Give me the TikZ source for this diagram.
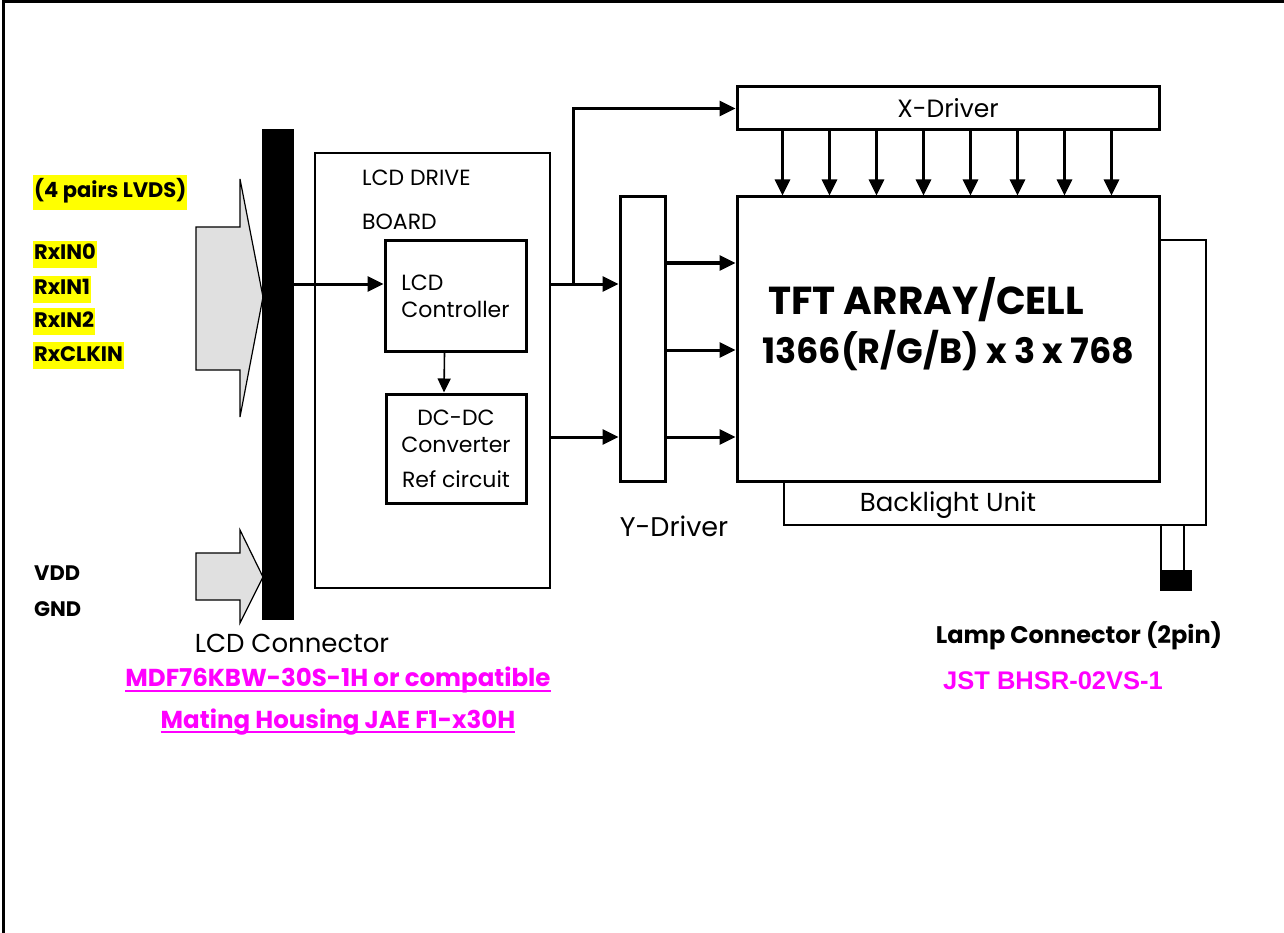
\documentclass[tikz,border=0pt]{standalone}
\usepackage{fontspec}
\setmainfont{Poppins}
\newfontfamily\pnfont{Liberation Sans}
\usetikzlibrary{arrows.meta,positioning,calc}
\definecolor{Ink}{HTML}{000000}
\definecolor{Magenta}{HTML}{FF00FF}
\definecolor{Hilite}{HTML}{FFFF00}
\definecolor{Shade}{HTML}{E0E0E0}
\newcommand{\fsz}[2]{\fontsize{#1}{#2}\selectfont}
\tikzset{
  box/.style={draw=Ink,line width=3pt,inner sep=0pt},
  arr/.style={-{Triangle[length=16pt,width=15pt]},line width=3pt,draw=Ink},
  tag/.style={fill=Hilite,anchor=west,inner xsep=1pt,inner ysep=4pt,text height=15pt,text depth=4pt,font=\bfseries\fsz{21}{24}},
  lbl/.style={font=\fsz{22}{27},inner sep=0pt},
  pn/.style={text=Magenta,inner sep=0pt,font=\bfseries\fsz{24.5}{28}},
  uline/.style={draw=Magenta,line width=2pt},
}
\begin{document}
\begin{tikzpicture}[x=1pt,y=1pt]
\useasboundingbox (0,0) rectangle (1284,-933);
% frame
\draw[line width=3pt] (3,-933) -- (3,-2) -- (1284,-2);
% input labels
\node[tag,inner ysep=8pt] (lvds) at (33,-192.5) {(4 pairs LVDS)};
\node[tag] (rx0) at (33,-254.5) {RxIN0};
\node[tag] (rx1) at (33,-289) {RxIN1};
\node[tag] (rx2) at (33,-321.5) {RxIN2};
\node[tag] (rxclk) at (33,-355.5) {RxCLKIN};
\node[tag,fill=none] (vdd) at (33,-575) {VDD};
\node[tag,fill=none] (gnd) at (33,-611) {GND};
% fat input arrows
\draw[line width=1.2pt,fill=Shade] (196,-227) -- (240,-227) -- (240,-179) -- (263,-297) -- (240,-417) -- (240,-370) -- (196,-370) -- cycle;
\draw[line width=1.2pt,fill=Shade] (196,-553) -- (240,-553) -- (240,-530) -- (263,-577) -- (240,-623) -- (240,-600) -- (196,-600) -- cycle;
% connector
\node[box,fill=Ink,minimum width=29pt,minimum height=487pt] (conn) at (277.5,-374.5) {};
\node[lbl,font=\fsz{26}{30}] (connlbl) at (292,-643) {LCD Connector};
\node[pn] (pn1) at (338,-680) {MDF76KBW-30S-1H or compatible};
\node[pn] (pn2) at (338,-722) {Mating Housing JAE F1-x30H};
\draw[uline] ([yshift=-4pt]pn1.base west) -- ([yshift=-4pt]pn1.base east);
\draw[uline] ([yshift=-4pt]pn2.base west) -- ([yshift=-4pt]pn2.base east);
% drive board
\node[box,line width=2.4pt,minimum width=235pt,minimum height=435pt] (board) at (432.5,-370.5) {};
\node[lbl,anchor=base west] (boardlbl) at (362,-186) {LCD DRIVE};
\node[lbl,anchor=base west] (boardlbl2) at (362,-230) {BOARD};
\node[box,lbl,align=left,minimum width=141pt,minimum height=110pt] (ctrl) at (455.5,-296) {LCD\\Controller};
\node[box,lbl,align=center,minimum width=140pt,minimum height=109pt] (dcdc) at (456,-448.5) {DC-DC\\Converter\\[8pt]Ref circuit};
% drivers and panel
\node[box,minimum width=45pt,minimum height=284pt] (ydrv) at (642.5,-339) {};
\node[lbl,font=\fsz{27}{30}] (ylbl) at (674,-526) {Y-Driver};
\node[box,lbl,font=\fsz{25}{28},minimum width=422pt,minimum height=43pt] (xdrv) at (948,-108.5) {X-Driver};
\node[box,minimum width=422pt,minimum height=284pt] (tft) at (948,-339) {};
\node[inner sep=0pt,anchor=west,font=\bfseries\fsz{39}{42}] (tftt) at (768,-300) {TFT ARRAY/CELL};
\node[inner sep=0pt,anchor=west,font=\bfseries\fsz{35}{38}] (tftn) at (762,-351) {1366(R/G/B) x 3 x 768};
% backlight and lamp
\draw[line width=2pt] (784,-481) -- (784,-525) -- (1206,-525) -- (1206,-240) -- (tft.east |- 0,-240);
\node[lbl,font=\fsz{26}{30}] (bllbl) at (948,-505) {Backlight Unit};
\node[fill=Ink,minimum width=32pt,minimum height=21pt,inner sep=0pt] (lamp) at (1176,-580.5) {};
\draw[line width=1.8pt] ([xshift=1pt]lamp.north west) -- ++(0,45);
\draw[line width=1.8pt] ([xshift=24pt]lamp.north west) -- ++(0,45);
\node[font=\bfseries\fsz{24}{28},inner sep=0pt] (lamplbl) at (1079,-636) {Lamp Connector (2pin)};
\node[text=Magenta,inner sep=0pt,font=\pnfont\bfseries\fsz{25.5}{28}] (lamppn) at (1053,-681) {JST BHSR-02VS-1};
% signal flow
\coordinate (row1) at (0,-284);
\coordinate (row2) at (0,-437);
\coordinate (tap) at (573,-284);
\draw[arr] (conn.east |- row1) -- (ctrl.west |- row1);
\draw[-{Triangle[length=14pt,width=13pt]},line width=1.6pt] ([xshift=-11pt]ctrl.south) -- ([xshift=-12pt]dcdc.north);
\draw[arr] (board.east |- row1) -- (ydrv.west |- row1);
\draw[arr] (board.east |- row2) -- (ydrv.west |- row2);
\draw[arr] (tap) |- (xdrv.west);
\foreach \yy in {263,350,437}
  \draw[arr] (ydrv.east |- 0,-\yy) -- (tft.west |- 0,-\yy);
\foreach \i in {0,...,7}
  \draw[arr] ($(xdrv.south west)+(47+47*\i,0)$) -- ($(tft.north west)+(47+47*\i,0)$);
\end{tikzpicture}
\end{document}
